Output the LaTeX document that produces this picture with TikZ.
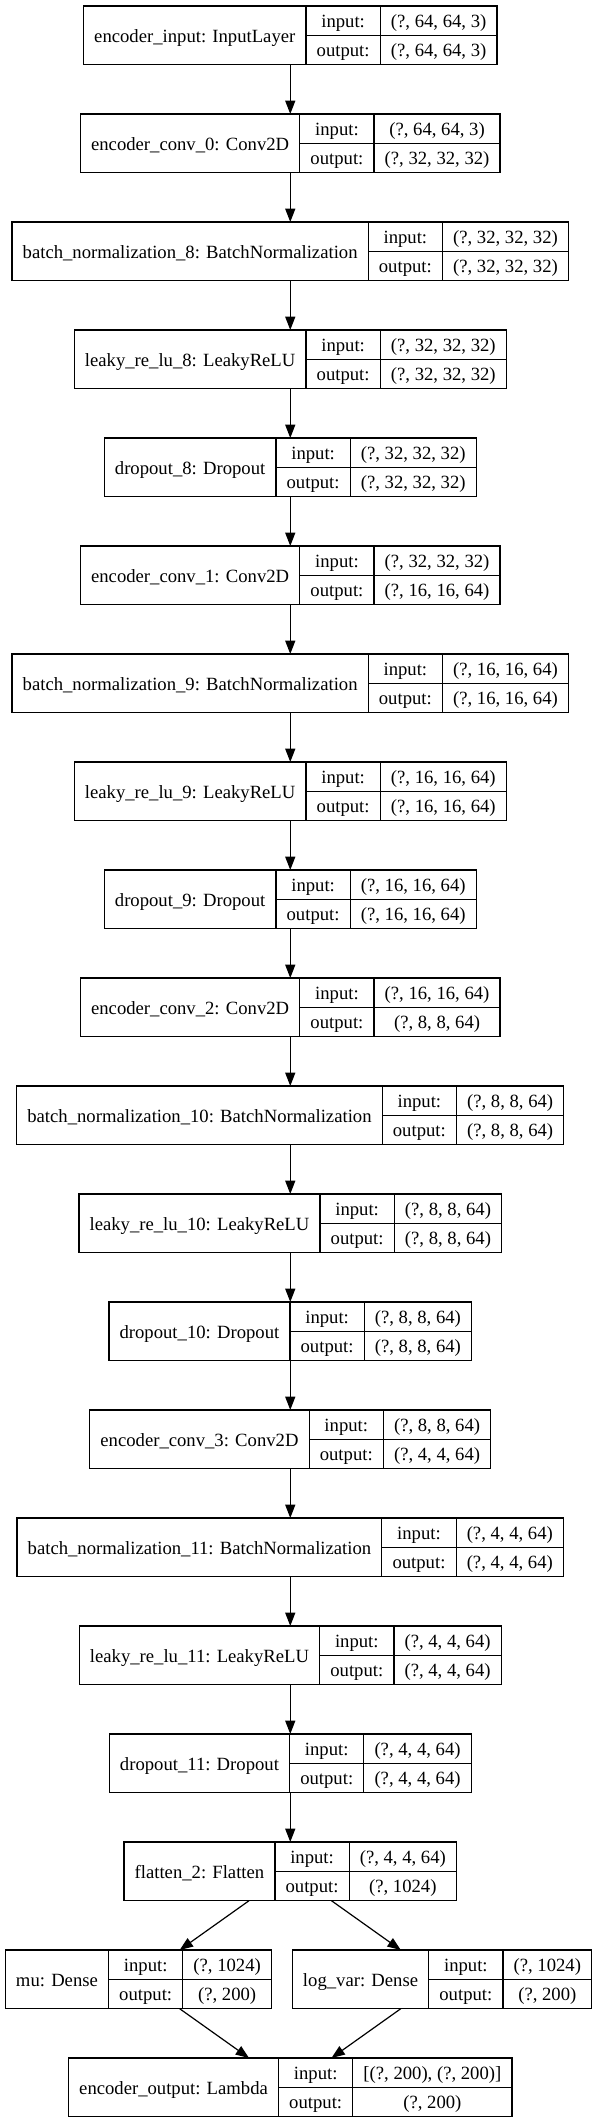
\documentclass[tikz,border=0pt]{standalone}
\usepackage{fontspec}
\setmainfont{Liberation Serif}
\usetikzlibrary{arrows.meta}
\newcommand\layfont{\fontsize{14}{16.8}\selectfont}
\newlength\LayLw \newlength\LayKw \newlength\LayVw
\newlength\LayIw \newlength\LayOw \newlength\LayW
\tikzset{
  recbox/.style={inner sep=0pt, outer sep=0pt, minimum height=44pt},
  cell/.style={draw=black, line width=0.9pt, inner sep=0pt, outer sep=0pt, minimum height=22pt,
    font=\layfont, text height=12.5pt, text depth=2.3pt, align=center},
  edge/.style={-{Triangle[length=10pt,width=7.5pt]}, line width=0.9pt, draw=black}
}
% measure the three columns of a record, outside the picture's null font
\newcommand\laymeasure[3]{%
  \pgfinterruptpicture
  \layfont
  \settowidth\LayLw{#1}\addtolength\LayLw{16pt}\global\LayLw=\LayLw
  \settowidth\LayIw{#2}\settowidth\LayOw{#3}%
  \ifdim\LayIw>\LayOw \LayVw=\LayIw \else \LayVw=\LayOw \fi
  \addtolength\LayVw{16pt}\global\LayVw=\LayVw
  \settowidth\LayKw{output:}\addtolength\LayKw{16pt}\global\LayKw=\LayKw
  \endpgfinterruptpicture
  \global\LayW=\LayLw \global\advance\LayW by \LayKw \global\advance\LayW by \LayVw
}
% #1 name, #2 anchor, #3 x, #4 y, #5 label, #6 input shape, #7 output shape
\newcommand\layer[7]{%
  \laymeasure{#5}{#6}{#7}%
  \node[recbox, minimum width=\LayW, anchor=#2] (#1) at (#3,#4) {};
  \node[cell, minimum width=\LayLw, minimum height=44pt, anchor=west] (#1-name) at (#1.west) {#5};
  \node[cell, minimum width=\LayKw, anchor=north west] (#1-ki) at (#1-name.north east) {input:};
  \node[cell, minimum width=\LayKw, anchor=north west] (#1-ko) at (#1-ki.south west) {output:};
  \node[cell, minimum width=\LayVw, anchor=north west] (#1-vi) at (#1-ki.north east) {#6};
  \node[cell, minimum width=\LayVw, anchor=north west] (#1-vo) at (#1-vi.south west) {#7};
}
\begin{document}
\begin{tikzpicture}[x=1pt, y=1pt]
\useasboundingbox (0,0) rectangle (447.75,-1592.25);
\def\xc{217.7}
\layer{l0}{center}{\xc}{-26.5}{encoder\_input: InputLayer}{(?, 64, 64, 3)}{(?, 64, 64, 3)}
\layer{l1}{center}{\xc}{-107.5}{encoder\_conv\_0: Conv2D}{(?, 64, 64, 3)}{(?, 32, 32, 32)}
\layer{l2}{center}{\xc}{-188.5}{batch\_normalization\_8: BatchNormalization}{(?, 32, 32, 32)}{(?, 32, 32, 32)}
\layer{l3}{center}{\xc}{-269.5}{leaky\_re\_lu\_8: LeakyReLU}{(?, 32, 32, 32)}{(?, 32, 32, 32)}
\layer{l4}{center}{\xc}{-350.5}{dropout\_8: Dropout}{(?, 32, 32, 32)}{(?, 32, 32, 32)}
\layer{l5}{center}{\xc}{-431.5}{encoder\_conv\_1: Conv2D}{(?, 32, 32, 32)}{(?, 16, 16, 64)}
\layer{l6}{center}{\xc}{-512.5}{batch\_normalization\_9: BatchNormalization}{(?, 16, 16, 64)}{(?, 16, 16, 64)}
\layer{l7}{center}{\xc}{-593.5}{leaky\_re\_lu\_9: LeakyReLU}{(?, 16, 16, 64)}{(?, 16, 16, 64)}
\layer{l8}{center}{\xc}{-674.5}{dropout\_9: Dropout}{(?, 16, 16, 64)}{(?, 16, 16, 64)}
\layer{l9}{center}{\xc}{-755.5}{encoder\_conv\_2: Conv2D}{(?, 16, 16, 64)}{(?, 8, 8, 64)}
\layer{l10}{center}{\xc}{-836.5}{batch\_normalization\_10: BatchNormalization}{(?, 8, 8, 64)}{(?, 8, 8, 64)}
\layer{l11}{center}{\xc}{-917.5}{leaky\_re\_lu\_10: LeakyReLU}{(?, 8, 8, 64)}{(?, 8, 8, 64)}
\layer{l12}{center}{\xc}{-998.5}{dropout\_10: Dropout}{(?, 8, 8, 64)}{(?, 8, 8, 64)}
\layer{l13}{center}{\xc}{-1079.5}{encoder\_conv\_3: Conv2D}{(?, 8, 8, 64)}{(?, 4, 4, 64)}
\layer{l14}{center}{\xc}{-1160.5}{batch\_normalization\_11: BatchNormalization}{(?, 4, 4, 64)}{(?, 4, 4, 64)}
\layer{l15}{center}{\xc}{-1241.5}{leaky\_re\_lu\_11: LeakyReLU}{(?, 4, 4, 64)}{(?, 4, 4, 64)}
\layer{l16}{center}{\xc}{-1322.5}{dropout\_11: Dropout}{(?, 4, 4, 64)}{(?, 4, 4, 64)}
\layer{l17}{center}{\xc}{-1403.5}{flatten\_2: Flatten}{(?, 4, 4, 64)}{(?, 1024)}
\layer{mu}{west}{4}{-1484.5}{mu: Dense}{(?, 1024)}{(?, 200)}
\layer{lv}{east}{443.75}{-1484.5}{log\_var: Dense}{(?, 1024)}{(?, 200)}
\layer{out}{center}{\xc}{-1565.5}{encoder\_output: Lambda}{[(?, 200), (?, 200)]}{(?, 200)}
\foreach \a/\b in {l0/l1,l1/l2,l2/l3,l3/l4,l4/l5,l5/l6,l6/l7,l7/l8,l8/l9,l9/l10,l10/l11,l11/l12,l12/l13,l13/l14,l14/l15,l15/l16,l16/l17,l17/mu,l17/lv,mu/out,lv/out}
  \draw[edge] (\a) -- (\b);
\end{tikzpicture}
\end{document}
